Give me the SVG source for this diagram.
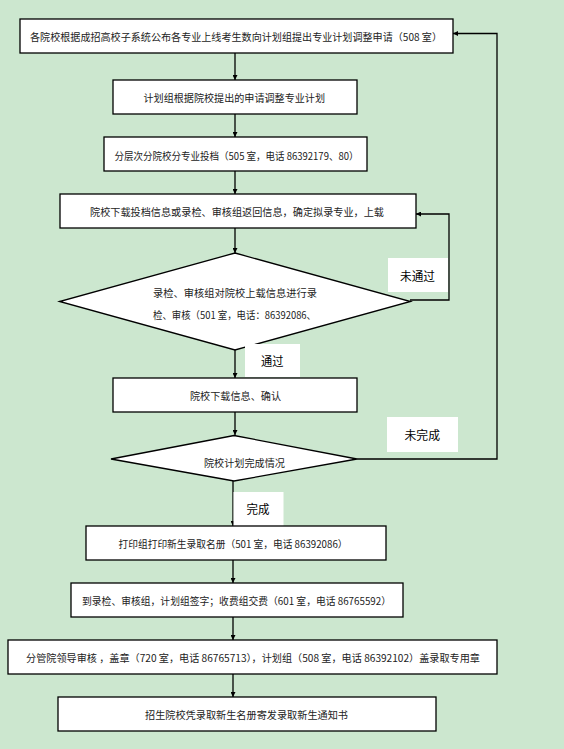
<svg xmlns="http://www.w3.org/2000/svg" width="564" height="749" viewBox="0 0 564 749">
<defs>
<marker id="ah" viewBox="0 0 10 10" refX="10" refY="5" markerWidth="5" markerHeight="5" orient="auto" markerUnits="userSpaceOnUse">
<path d="M0,0 L10,5 L0,10 z" fill="#000"/>
</marker>
<style>
.box{fill:#fff;stroke:#000;stroke-width:1.3}
.lbl{fill:#fff;stroke:none}
.t{font-family:"Noto Sans CJK SC","Noto Sans",sans-serif;font-size:10px;fill:#222;dominant-baseline:central}
.lt{font-family:"Noto Sans CJK SC","Noto Sans",sans-serif;font-size:12px;fill:#000;dominant-baseline:central}
.ln{fill:none;stroke:#000;stroke-width:1.3}
</style>
</defs>
<rect width="564" height="749" fill="#cce7cf"/>
<g id="connectors">
<line class="ln" x1="235" y1="53" x2="235" y2="80" marker-end="url(#ah)"/>
<line class="ln" x1="235" y1="114" x2="235" y2="137" marker-end="url(#ah)"/>
<line class="ln" x1="235" y1="171" x2="235" y2="194" marker-end="url(#ah)"/>
<line class="ln" x1="235" y1="228" x2="235" y2="253" marker-end="url(#ah)"/>
<line class="ln" x1="235" y1="350" x2="235" y2="378" marker-end="url(#ah)"/>
<line class="ln" x1="235" y1="412" x2="235" y2="435" marker-end="url(#ah)"/>
<line class="ln" x1="233" y1="481" x2="233" y2="526" marker-end="url(#ah)"/>
<line class="ln" x1="233" y1="560" x2="233" y2="583" marker-end="url(#ah)"/>
<line class="ln" x1="233" y1="617" x2="233" y2="640" marker-end="url(#ah)"/>
<line class="ln" x1="233" y1="674" x2="233" y2="697" marker-end="url(#ah)"/>
<polyline class="ln" points="410,300 449,300 449,214 416,214" marker-end="url(#ah)"/>
<polyline class="ln" points="357,459 497,459 497,33.5 453,33.5" marker-end="url(#ah)"/>
</g>
<g id="n1"><rect class="box" x="20" y="19" width="433" height="34"/><text class="t" x="30" y="36.5" textLength="412" lengthAdjust="spacingAndGlyphs">各院校根据成招高校子系统公布各专业上线考生数向计划组提出专业计划调整申请（508 室）</text></g>
<g id="n2"><rect class="box" x="113" y="80" width="244" height="34"/><text class="t" x="143.5" y="97.5" textLength="181.5" lengthAdjust="spacingAndGlyphs">计划组根据院校提出的申请调整专业计划</text></g>
<g id="n3"><rect class="box" x="104" y="137" width="263" height="34"/><text class="t" x="114.5" y="155" textLength="244" lengthAdjust="spacingAndGlyphs">分层次分院校分专业投档（505 室，电话 86392179、80）</text></g>
<g id="n4"><rect class="box" x="60" y="194" width="356" height="34"/><text class="t" x="90" y="211.5" textLength="294" lengthAdjust="spacingAndGlyphs">院校下载投档信息或录检、审核组返回信息，确定拟录专业，上载</text></g>
<g id="n5"><polygon class="box" points="235,253 410.5,301.5 235,350 59.5,301.5"/><text class="t" x="153" y="292.5" textLength="164" lengthAdjust="spacingAndGlyphs">录检、审核组对院校上载信息进行录</text><text class="t" x="153" y="314" textLength="163" lengthAdjust="spacingAndGlyphs">检、审核（501 室，电话：86392086、</text></g>
<g id="l1"><rect class="lbl" x="388" y="258" width="60" height="34"/><text class="lt" x="400" y="275" textLength="35" lengthAdjust="spacingAndGlyphs">未通过</text></g>
<g id="l2"><rect class="lbl" x="245" y="344" width="55" height="33"/><text class="lt" x="261" y="360" textLength="22.5" lengthAdjust="spacingAndGlyphs">通过</text></g>
<g id="n6"><rect class="box" x="113" y="378" width="244" height="34"/><text class="t" x="190" y="395.5" textLength="91" lengthAdjust="spacingAndGlyphs">院校下载信息、确认</text></g>
<g id="n7"><polygon class="box" points="234,435.5 357,459 234,481 111,459"/><text class="t" x="204" y="462" textLength="81" lengthAdjust="spacingAndGlyphs">院校计划完成情况</text></g>
<g id="l3"><rect class="lbl" x="387" y="417" width="71" height="35"/><text class="lt" x="404.5" y="434.5" textLength="35.5" lengthAdjust="spacingAndGlyphs">未完成</text></g>
<g id="l4"><rect class="lbl" x="233.5" y="492" width="50" height="34"/><text class="lt" x="246.5" y="508" textLength="23" lengthAdjust="spacingAndGlyphs">完成</text></g>
<g id="n8"><rect class="box" x="86" y="526" width="300" height="34"/><text class="t" x="118.5" y="543.5" textLength="229" lengthAdjust="spacingAndGlyphs">打印组打印新生录取名册（501 室，电话 86392086）</text></g>
<g id="n9"><rect class="box" x="71" y="583" width="332" height="34"/><text class="t" x="82" y="600" textLength="309" lengthAdjust="spacingAndGlyphs">到录检、审核组，计划组签字；收费组交费（601 室，电话 86765592）</text></g>
<g id="n10"><rect class="box" x="8" y="640" width="489" height="34"/><text class="t" x="26" y="657.5" textLength="454" lengthAdjust="spacingAndGlyphs">分管院领导审核 ，盖章（720 室，电话 86765713），计划组（508 室，电话 86392102）盖录取专用章</text></g>
<g id="n11"><rect class="box" x="58" y="697" width="378" height="34"/><text class="t" x="145" y="714.5" textLength="203" lengthAdjust="spacingAndGlyphs">招生院校凭录取新生名册寄发录取新生通知书</text></g>
</svg>
